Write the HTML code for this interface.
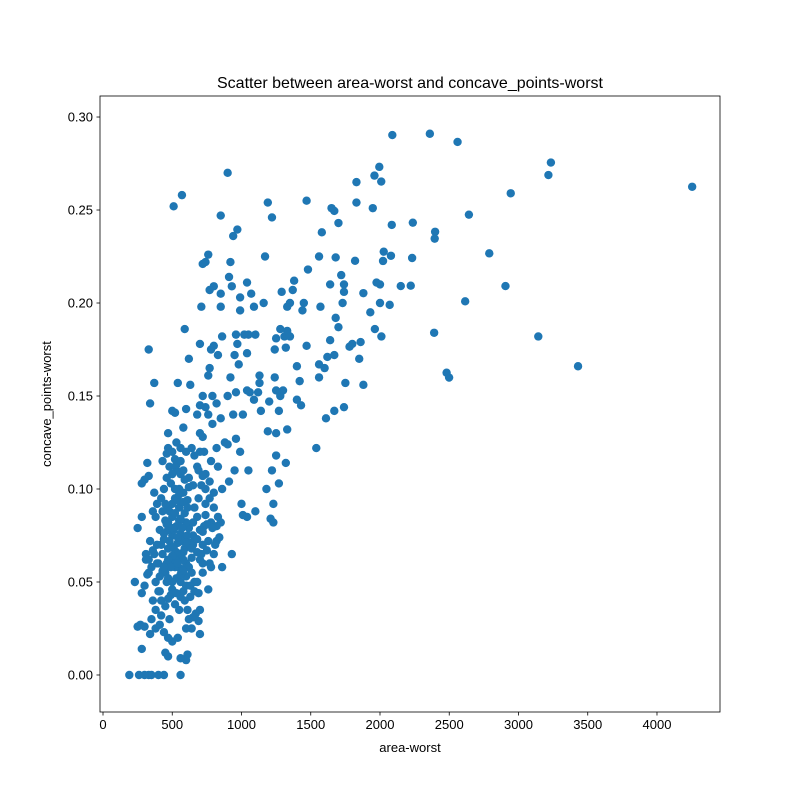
<!DOCTYPE html>
<html><head><meta charset="utf-8">
<style>
body{margin:0;background:#fff;}
svg{display:block;font-family:"Liberation Sans","DejaVu Sans",sans-serif;}
</style></head>
<body>
<svg id="chart" width="800" height="800" viewBox="0 0 800 800"></svg>
<script>
const areaWorst=[4254,3430,3234,3216,3143,2944,2906,2789,2642,2615,2560,2499,2481,2360,2398,2395,2391,2089,2237,2232,2222,2150,2085,2079,2070,2027,2022,2009,1995,2000,2010,2000,1960,1948,1975,1963,1930,1880,1860,1830,1830,1850,1820,1780,1800,1880,1730,1720,1740,1740,1750,1740,1670,1650,1700,1680,1680,1700,1670,1640,1640,1620,1600,1670,1610,1580,1560,1570,1560,1560,1540,1470,1480,1450,1440,1470,1420,1400,1400,1430,1380,1370,1350,1330,1290,1310,1330,1350,1320,1280,1250,1240,1240,1250,1280,1300,1270,1250,1330,1320,1250,1270,1220,1200,1190,1180,1230,1210,1230,1190,1220,1170,1160,1130,1130,1140,1120,1100,1090,1070,1040,1050,1020,1040,1040,1060,1010,1090,1050,1010,1040,1100,1000,990,990,970,940,920,910,930,900,850,960,970,950,980,920,960,900,940,960,990,950,910,880,900,930,860,850,850,800,770,760,740,720,710,700,800,780,830,770,760,790,820,720,740,760,790,850,820,700,680,700,730,780,830,860,800,770,740,710,680,660,640,600,580,600,620,630,590,570,510,540,500,520,470,470,460,430,500,520,530,560,620,650,690,740,800,830,850,780,730,700,760,800,860,780,720,720,760,700,690,700,670,630,640,610,600,560,560,620,590,580,550,540,500,480,470,450,440,400,350,330,300,260,190,270,250,300,340,380,410,280,230,280,300,320,350,380,400,420,450,380,350,420,330,310,340,370,400,430,460,500,530,560,600,640,680,620,580,540,500,470,440,410,380,360,370,330,300,280,320,280,250,390,420,440,470,500,530,560,590,620,650,680,660,610,580,550,520,490,460,550,590,450,470,500,540,580,510,430,460,520,560,600,640,660,490,520,360,340,330,370,690,720,740,770,650,600,720,620,550,510,700,580,530,560,740,820,680,
480,500,520,540,560,460,440,420,480,510,530,570,590,610,630,650,670,450,470,490,520,540,560,580,600,500,470,440,410,390,520,550,580,610,480,500,530,560,590,620,450,430,470,500,540,570,600,640,680,720,750,790,820,560,530,500,470,610,650,690,710,750,770,810,840,390,360,330,310,410,440,470,600,630,660,700,720];
const concaveWorst=[0.2625,0.166,0.2755,0.2688,0.182,0.259,0.2091,0.2267,0.2475,0.2009,0.2866,0.1599,0.1625,0.291,0.2383,0.2346,0.184,0.2903,0.2432,0.2242,0.2093,0.2091,0.242,0.2254,0.199,0.2276,0.2226,0.2653,0.2732,0.2,0.182,0.21,0.2685,0.251,0.211,0.186,0.195,0.2053,0.179,0.265,0.254,0.17,0.2227,0.1765,0.178,0.156,0.2,0.215,0.21,0.206,0.157,0.144,0.2495,0.251,0.243,0.2245,0.192,0.187,0.172,0.21,0.18,0.171,0.165,0.142,0.138,0.238,0.225,0.198,0.167,0.16,0.122,0.255,0.218,0.2,0.196,0.177,0.158,0.166,0.148,0.145,0.212,0.207,0.2,0.198,0.206,0.182,0.185,0.182,0.176,0.186,0.181,0.175,0.16,0.153,0.15,0.153,0.142,0.13,0.132,0.114,0.118,0.103,0.11,0.147,0.131,0.1,0.092,0.084,0.082,0.254,0.246,0.225,0.2,0.161,0.157,0.142,0.152,0.183,0.198,0.205,0.211,0.183,0.183,0.173,0.153,0.152,0.14,0.148,0.11,0.086,0.085,0.088,0.092,0.203,0.196,0.2395,0.236,0.222,0.214,0.209,0.27,0.247,0.183,0.178,0.172,0.167,0.16,0.152,0.15,0.14,0.127,0.12,0.11,0.104,0.125,0.124,0.065,0.182,0.205,0.198,0.209,0.207,0.226,0.222,0.221,0.198,0.178,0.177,0.175,0.172,0.165,0.161,0.15,0.146,0.15,0.144,0.14,0.135,0.138,0.122,0.145,0.14,0.13,0.12,0.115,0.112,0.1,0.098,0.104,0.108,0.102,0.112,0.118,0.122,0.12,0.133,0.143,0.17,0.156,0.186,0.258,0.252,0.157,0.142,0.141,0.13,0.122,0.119,0.115,0.12,0.116,0.11,0.108,0.106,0.102,0.095,0.092,0.09,0.085,0.082,0.082,0.08,0.078,0.072,0.065,0.058,0.058,0.06,0.055,0.046,0.035,0.029,0.022,0.033,0.042,0.025,0.011,0.008,0.009,0.0,0.03,0.04,0.045,0.035,0.02,0.018,0.03,0.01,0.012,0.0,0.0,0.0,0.0,0.0,0.0,0.0,0.027,0.026,0.026,0.022,0.025,0.027,0.014,0.05,0.044,0.048,0.054,0.058,0.05,0.045,0.04,0.037,0.035,0.03,0.032,0.062,0.065,0.072,0.065,0.06,0.056,0.05,0.046,0.052,0.057,0.06,0.063,0.066,0.07,0.066,0.064,0.06,0.068,0.073,0.078,0.085,0.088,0.098,0.107,0.105,0.103,0.114,0.085,0.079,0.092,0.095,0.1,0.09,0.085,0.08,0.076,0.073,0.079,0.082,0.085,0.09,0.094,0.098,0.1,0.095,0.103,0.106,0.09,0.087,0.083,0.078,0.075,0.071,0.062,0.068,0.065,0.06,0.058,0.05,0.053,0.055,0.05,0.043,0.038,0.04,0.146,0.175,0.157,0.11,0.107,0.1,0.095,0.075,0.082,0.07,0.058,0.083,0.078,0.062,0.11,0.125,0.122,0.086,0.08,0.05,
0.088,0.092,0.087,0.094,0.084,0.081,0.076,0.07,0.072,0.069,0.066,0.072,0.068,0.075,0.071,0.07,0.073,0.055,0.052,0.058,0.062,0.06,0.054,0.056,0.048,0.064,0.062,0.058,0.053,0.06,0.1,0.097,0.093,0.09,0.112,0.108,0.113,0.115,0.105,0.101,0.092,0.088,0.082,0.079,0.074,0.079,0.071,0.068,0.073,0.077,0.081,0.079,0.072,0.042,0.044,0.05,0.041,0.035,0.031,0.044,0.065,0.067,0.06,0.07,0.074,0.07,0.067,0.055,0.062,0.045,0.023,0.02,0.025,0.048,0.045,0.12,0.128,0.125,0.133];
const xTicks=[0,500,1000,1500,2000,2500,3000,3500,4000];
const yTicks=[0,0.05,0.10,0.15,0.20,0.25,0.30];
const yTickLabels=["0.00","0.05","0.10","0.15","0.20","0.25","0.30"];

const NS="http://www.w3.org/2000/svg";
const svg=document.getElementById('chart');
const L=100,R=720,T=96,B=712;
const xMin=-21.7,xMax=4455,yMin=-0.0199,yMax=0.3113;
function xs(v){return L+(v-xMin)/(xMax-xMin)*(R-L);}
function ys(v){return B-(v-yMin)/(yMax-yMin)*(B-T);}
function mk(tag,attrs,parent){const e=document.createElementNS(NS,tag);for(const k in attrs)e.setAttribute(k,attrs[k]);(parent||svg).appendChild(e);return e;}

const pts=mk('g',{});


const n=Math.min(areaWorst.length,concaveWorst.length);
for(let i=0;i<n;i++){
  const c=mk('circle',{cx:xs(areaWorst[i]),cy:ys(concaveWorst[i]),r:4.2,fill:'#1f77b4'},pts);
  
  
}
const frame=mk('rect',{x:L,y:T,width:R-L,height:B-T,fill:'none',stroke:'#000','stroke-width':0.8});



const xg=mk('g',{});


xTicks.forEach(t=>{
  const x=xs(t);
  mk('line',{x1:x,x2:x,y1:B,y2:B+3.5,stroke:'#000','stroke-width':0.8},xg);
  const tx=mk('text',{x:x,y:B+17,'text-anchor':'middle','font-size':'13px',fill:'#000'},xg);
  tx.textContent=t;
  
  
});
const yg=mk('g',{});


yTicks.forEach((t,i)=>{
  const y=ys(t);
  mk('line',{x1:L-3.5,x2:L,y1:y,y2:y,stroke:'#000','stroke-width':0.8},yg);
  const tx=mk('text',{x:L-7,y:y+4.6,'text-anchor':'end','font-size':'13px',fill:'#000'},yg);
  tx.textContent=yTickLabels[i];
  
  
});
const xl=mk('text',{x:(L+R)/2,y:752,'text-anchor':'middle','font-size':'13px',fill:'#000'});
xl.textContent='area-worst';


const yl=mk('text',{x:0,y:0,'text-anchor':'middle','font-size':'13px',fill:'#000',transform:'translate(51,'+((T+B)/2)+') rotate(-90)'});
yl.textContent='concave_points-worst';


const ti=mk('text',{x:(L+R)/2,y:88,'text-anchor':'middle','font-size':'16px',fill:'#000'});
ti.textContent='Scatter between area-worst and concave_points-worst';


</script>
</body></html>
